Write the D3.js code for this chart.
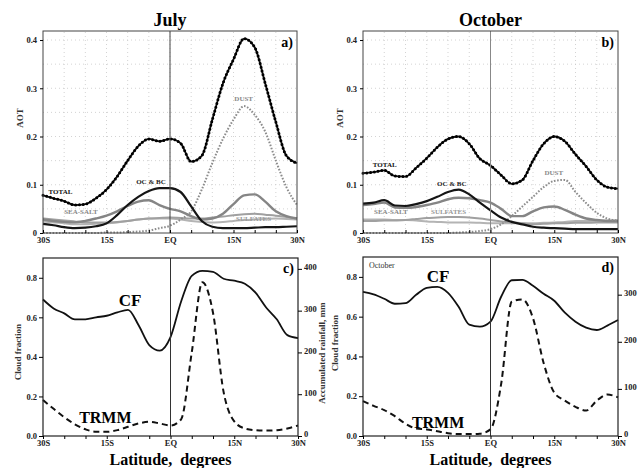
<!DOCTYPE html>
<html>
<head>
<meta charset="utf-8">
<script src="https://cdn.jsdelivr.net/npm/d3@7"></script>
<style>
  body { margin: 0; background: #fff; }
  text { font-family: "Liberation Serif", "Times New Roman", serif; font-weight: bold; }
</style>
</head>
<body>
<svg id="chart" width="641" height="468"></svg>
<script>
// latitude grid shared by every curve (negative = south)
const latitudes = [-30, -27.5, -25, -22.5, -20, -17.5, -15, -12.5, -10, -7.5, -5, -2.5, 0,
                   2.5, 5, 7.5, 10, 12.5, 15, 17.5, 20, 22.5, 25, 27.5, 30];
const latTicks = [-30, -15, 0, 15, 30];
const latTickLabels = ["30S", "15S", "EQ", "15N", "30N"];

// July AOT
const julyTotal = [0.078, 0.072, 0.066, 0.058, 0.060, 0.072, 0.090, 0.117, 0.150, 0.180, 0.195, 0.190, 0.195,
                   0.186, 0.148, 0.160, 0.235, 0.310, 0.360, 0.403, 0.385, 0.310, 0.230, 0.160, 0.145];
const julyOcBc = [0.019, 0.016, 0.012, 0.010, 0.011, 0.014, 0.020, 0.037, 0.058, 0.075, 0.087, 0.093, 0.093,
                  0.085, 0.055, 0.025, 0.013, 0.010, 0.010, 0.010, 0.011, 0.012, 0.012, 0.013, 0.014];
const julyDust = [0.000, 0.000, 0.000, 0.000, 0.000, 0.000, 0.001, 0.001, 0.002, 0.003, 0.005, 0.010, 0.015,
                  0.028, 0.045, 0.090, 0.145, 0.195, 0.235, 0.263, 0.245, 0.210, 0.150, 0.095, 0.058];
const julyOther = [0.028, 0.025, 0.023, 0.022, 0.025, 0.030, 0.036, 0.045, 0.056, 0.065, 0.068, 0.058, 0.050,
                   0.045, 0.035, 0.028, 0.030, 0.040, 0.060, 0.078, 0.080, 0.065, 0.045, 0.035, 0.030];
const julySeaSalt = [0.024, 0.022, 0.020, 0.018, 0.018, 0.019, 0.020, 0.022, 0.025, 0.028, 0.030, 0.030, 0.030,
                     0.028, 0.025, 0.023, 0.022, 0.023, 0.025, 0.027, 0.028, 0.029, 0.030, 0.029, 0.028];
const julySulfates = [0.030, 0.028, 0.026, 0.024, 0.022, 0.022, 0.022, 0.023, 0.025, 0.028, 0.030, 0.031, 0.032,
                      0.031, 0.030, 0.030, 0.032, 0.034, 0.037, 0.039, 0.040, 0.038, 0.036, 0.033, 0.030];

// October AOT
const octTotal = [0.124, 0.126, 0.130, 0.118, 0.117, 0.135, 0.155, 0.178, 0.195, 0.200, 0.185, 0.154, 0.140,
                  0.120, 0.102, 0.110, 0.150, 0.185, 0.200, 0.190, 0.163, 0.138, 0.110, 0.095, 0.092];
const octOcBc = [0.061, 0.063, 0.068, 0.057, 0.056, 0.060, 0.066, 0.075, 0.085, 0.090, 0.080, 0.063, 0.047,
                 0.032, 0.023, 0.018, 0.013, 0.011, 0.010, 0.009, 0.008, 0.008, 0.008, 0.008, 0.008];
const octDust = [0.000, 0.000, 0.000, 0.000, 0.000, 0.000, 0.000, 0.000, 0.000, 0.001, 0.002, 0.004, 0.008,
                 0.018, 0.035, 0.055, 0.075, 0.095, 0.108, 0.110, 0.085, 0.062, 0.042, 0.030, 0.026];
const octOther = [0.058, 0.060, 0.063, 0.053, 0.052, 0.054, 0.058, 0.063, 0.070, 0.073, 0.072, 0.068, 0.063,
                  0.050, 0.035, 0.035, 0.045, 0.053, 0.055, 0.048, 0.038, 0.030, 0.027, 0.025, 0.025];
const octSeaSalt = [0.028, 0.028, 0.028, 0.027, 0.027, 0.026, 0.024, 0.023, 0.022, 0.022, 0.022, 0.021, 0.020,
                    0.020, 0.020, 0.020, 0.020, 0.021, 0.022, 0.023, 0.025, 0.025, 0.025, 0.026, 0.026];
const octSulfates = [0.025, 0.025, 0.026, 0.026, 0.027, 0.029, 0.031, 0.032, 0.033, 0.033, 0.032, 0.030, 0.027,
                     0.024, 0.022, 0.020, 0.018, 0.019, 0.020, 0.020, 0.021, 0.021, 0.022, 0.022, 0.022];

// Cloud fraction and TRMM accumulated rainfall (mm)
const julyCF = [0.690, 0.645, 0.620, 0.590, 0.590, 0.600, 0.608, 0.625, 0.638, 0.560, 0.460, 0.432, 0.500,
                0.680, 0.810, 0.835, 0.830, 0.795, 0.785, 0.770, 0.725, 0.650, 0.590, 0.510, 0.495];
const julyTRMM = [86, 65, 45, 28, 16, 10, 10, 14, 22, 30, 34, 30, 25,
                  40, 200, 368, 295, 105, 35, 18, 14, 13, 14, 18, 25];
const octCF = [0.725, 0.712, 0.690, 0.665, 0.668, 0.710, 0.745, 0.750, 0.720, 0.650, 0.560, 0.550, 0.575,
               0.700, 0.783, 0.785, 0.755, 0.715, 0.680, 0.620, 0.575, 0.545, 0.533, 0.555, 0.583];
const octTRMM = [74, 64, 55, 42, 26, 16, 14, 10, 6, 4, 4, 5, 14,
                 110, 285, 290, 250, 155, 92, 75, 62, 54, 75, 88, 82];

const svg = d3.select("#chart");
const SERIF = '"Liberation Serif", "Times New Roman", serif';

function series(values) {
    return latitudes.map((lat, i) => [lat, values[i]]);
}

function styleTicks(a) {
    a.select(".domain").remove();
    a.selectAll("text").attr("font-size", 8.5).attr("font-family", SERIF).attr("fill", "#222");
}

function latAxis(g, x, bottom, minorInside) {
    // minor ticks every 5 degrees, major labels every 15
    g.append("g")
        .attr("transform", `translate(0,${bottom})`)
        .call(d3.axisBottom(x).tickValues(d3.range(-30, 31, 5)).tickSize(minorInside ? -3 : 3).tickFormat(""))
        .call((a) => a.select(".domain").remove());
    g.append("g")
        .attr("transform", `translate(0,${bottom})`)
        .call(d3.axisBottom(x).tickValues(latTicks).tickSize(0).tickPadding(4)
            .tickFormat((d, i) => latTickLabels[i]))
        .call(styleTicks);
}

function drawAot(p) {
    const x = d3.scaleLinear().domain([-30, 30]).range([p.left, p.right]);
    const y = d3.scaleLinear().domain([0, 0.4187]).range([233, 31]);
    const g = svg.append("g");

    // dotted grid
    g.append("g").selectAll("line").data(d3.range(0.05, 0.41, 0.05)).join("line")
        .attr("x1", p.left).attr("x2", p.right).attr("y1", (d) => y(d)).attr("y2", (d) => y(d))
        .attr("stroke", "#c8c8c8").attr("stroke-width", 0.8).attr("stroke-dasharray", "1,3");
    g.append("g").selectAll("line").data(d3.range(-25, 30, 5)).join("line")
        .attr("x1", (d) => x(d)).attr("x2", (d) => x(d)).attr("y1", y.range()[0]).attr("y2", y.range()[1])
        .attr("stroke", "#c8c8c8").attr("stroke-width", 0.8).attr("stroke-dasharray", "1,3");

    const line = d3.line().x((d) => x(d[0])).y((d) => y(d[1])).curve(d3.curveMonotoneX);

    const curves = [
        { v: p.seaSalt, c: "#b4b4b4", w: 2 },
        { v: p.sulfates, c: "#a0a0a0", w: 2 },
        { v: p.other, c: "#858585", w: 2.4 },
        { v: p.dust, c: "#8c8c8c", w: 2, dash: "1.6,1.6" },
        { v: p.ocbc, c: "#151515", w: 2.2 },
        { v: p.total, c: "#111", w: 1.8 }
    ];
    curves.forEach((s) => {
        g.append("path").attr("d", line(series(s.v))).attr("fill", "none")
            .attr("stroke", s.c).attr("stroke-width", s.w)
            .attr("stroke-dasharray", s.dash || null);
    });
    // beaded look of the TOTAL curve
    g.append("path").attr("d", line(series(p.total))).attr("fill", "none")
        .attr("stroke", "#000").attr("stroke-width", 3).attr("stroke-linecap", "round")
        .attr("stroke-dasharray", "0,3.8");

    // equator line
    g.append("line").attr("x1", x(0)).attr("x2", x(0)).attr("y1", y.range()[0]).attr("y2", y.range()[1])
        .attr("stroke", p.eqColor).attr("stroke-width", 1);

    // frame
    g.append("rect").attr("x", p.left).attr("y", 31).attr("width", p.right - p.left).attr("height", 202)
        .attr("fill", "none").attr("stroke", "#444").attr("stroke-width", 1);

    g.append("g")
        .attr("transform", `translate(${p.left},0)`)
        .call(d3.axisLeft(y).tickValues([0, 0.1, 0.2, 0.3, 0.4]).tickSize(3).tickPadding(3)
            .tickFormat((d) => (d === 0 ? "0" : d3.format(".1f")(d))))
        .call(styleTicks);
    latAxis(g, x, 233, true);

    g.append("text").attr("x", (p.left + p.right) / 2).attr("y", 26).attr("text-anchor", "middle")
        .attr("font-size", 18).text(p.title);
    g.append("text").attr("transform", `translate(${p.left - 20},118) rotate(-90)`)
        .attr("text-anchor", "middle").attr("font-size", 9).attr("fill", "#333").text("AOT");
    g.append("text").attr("x", p.right - 4).attr("y", 47).attr("text-anchor", "end")
        .attr("font-size", 14).text(p.tag);

    // curve labels, placed in data coordinates
    p.labels.forEach((l) => {
        g.append("text").attr("x", x(l.lat)).attr("y", y(l.aot)).attr("font-size", 7)
            .attr("fill", l.c).text(l.t);
    });
}

function drawCloud(p) {
    const x = d3.scaleLinear().domain([-30, 30]).range([p.left, p.right]);
    const yL = d3.scaleLinear().domain([0, 0.9]).range([436, p.top]);
    const yR = d3.scaleLinear().domain([0, p.rainMax]).range([436, p.top]);
    const g = svg.append("g");

    const cfLine = d3.line().x((d) => x(d[0])).y((d) => yL(d[1])).curve(d3.curveMonotoneX);
    const rainLine = d3.line().x((d) => x(d[0])).y((d) => yR(d[1])).curve(d3.curveMonotoneX);

    g.append("path").attr("d", rainLine(series(p.rain))).attr("fill", "none")
        .attr("stroke", "#111").attr("stroke-width", 2).attr("stroke-dasharray", "6,4");
    g.append("path").attr("d", cfLine(series(p.cf))).attr("fill", "none")
        .attr("stroke", "#111").attr("stroke-width", 1.8);

    g.append("line").attr("x1", x(0)).attr("x2", x(0)).attr("y1", 436).attr("y2", p.top)
        .attr("stroke", "#333").attr("stroke-width", 1);
    g.append("rect").attr("x", p.left).attr("y", p.top).attr("width", p.right - p.left).attr("height", 436 - p.top)
        .attr("fill", "none").attr("stroke", "#222").attr("stroke-width", 1.2);

    g.append("g")
        .attr("transform", `translate(${p.left},0)`)
        .call(d3.axisLeft(yL).tickValues([0, 0.2, 0.4, 0.6, 0.8]).tickFormat(d3.format(".1f")).tickSize(4).tickPadding(2))
        .call(styleTicks);
    g.append("g")
        .attr("transform", `translate(${p.right},0)`)
        .call(d3.axisRight(yR).tickValues(p.rainTicks).tickSize(4).tickPadding(2))
        .call(styleTicks)
        .call((a) => a.selectAll("text").attr("dy", "0.1em"));
    latAxis(g, x, 436, false);

    g.append("text").attr("x", (p.left + p.right) / 2).attr("y", 465).attr("text-anchor", "middle")
        .attr("font-size", 16).attr("xml:space", "preserve").text("Latitude,  degrees");
    g.append("text").attr("transform", `translate(${p.cfLabelX},${p.cfLabelY}) rotate(-90)`)
        .attr("text-anchor", "middle").attr("font-size", 9).attr("fill", "#333").text("Cloud fraction");
    if (p.showRainTitle) {
        g.append("text").attr("transform", `translate(${p.right + 27},353) rotate(-90)`)
            .attr("text-anchor", "middle").attr("font-size", 9).attr("fill", "#333")
            .text("Accumulated rainfall, mm");
    }
    g.append("text").attr("x", p.right - 4).attr("y", p.top + 15).attr("text-anchor", "end")
        .attr("font-size", 14).text(p.tag);

    g.append("text").attr("x", x(p.cfLabel[0])).attr("y", yL(p.cfLabel[1]))
        .attr("font-size", 17).text("CF");
    g.append("text").attr("x", x(p.trmmLabel[0])).attr("y", yL(p.trmmLabel[1]))
        .attr("font-size", 16).text("TRMM");
    if (p.note) {
        g.append("text").attr("x", p.left + 6).attr("y", p.top + 11).attr("font-size", 8)
            .style("font-weight", "normal").attr("fill", "#333").text(p.note);
    }
}

drawAot({
    title: "July", tag: "a)", left: 43, right: 297, eqColor: "#444",
    total: julyTotal, ocbc: julyOcBc, dust: julyDust, other: julyOther, seaSalt: julySeaSalt, sulfates: julySulfates,
    labels: [
        { t: "TOTAL", lat: -28.7, aot: 0.080, c: "#111" },
        { t: "OC & BC", lat: -8, aot: 0.102, c: "#222" },
        { t: "SEA-SALT", lat: -25, aot: 0.039, c: "#888" },
        { t: "DUST", lat: 15.2, aot: 0.274, c: "#888" },
        { t: "SULFATES", lat: 15.6, aot: 0.024, c: "#999" }
    ]
});
drawAot({
    title: "October", tag: "b)", left: 363, right: 618, eqColor: "#888",
    total: octTotal, ocbc: octOcBc, dust: octDust, other: octOther, seaSalt: octSeaSalt, sulfates: octSulfates,
    labels: [
        { t: "TOTAL", lat: -27.7, aot: 0.136, c: "#111" },
        { t: "OC & BC", lat: -12.6, aot: 0.097, c: "#222" },
        { t: "SEA-SALT", lat: -27.4, aot: 0.040, c: "#888" },
        { t: "SULFATES", lat: -14, aot: 0.040, c: "#999" },
        { t: "DUST", lat: 12.7, aot: 0.120, c: "#888" }
    ]
});
drawCloud({
    tag: "c)", left: 43, right: 298, top: 258, rainMax: 426, rainTicks: [0, 100, 200, 300, 400],
    cf: julyCF, rain: julyTRMM, showRainTitle: true,
    cfLabelX: 21, cfLabelY: 352,
    cfLabel: [-12.2, 0.655], trmmLabel: [-21.5, 0.065]
});
drawCloud({
    tag: "d)", left: 363, right: 618, top: 257, rainMax: 380, rainTicks: [0, 100, 200, 300],
    cf: octCF, rain: octTRMM, showRainTitle: false, note: "October",
    cfLabelX: 338, cfLabelY: 343,
    cfLabel: [-15, 0.775], trmmLabel: [-18.5, 0.04]
});
</script>
</body>
</html>
